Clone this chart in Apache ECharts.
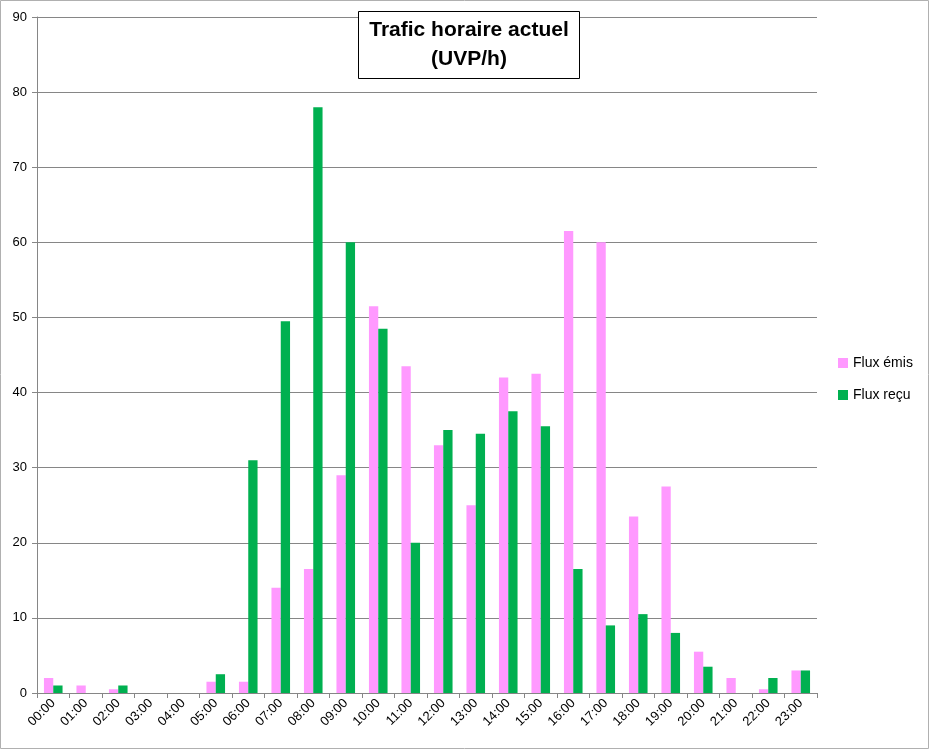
<!DOCTYPE html>
<html>
<head>
<meta charset="utf-8">
<script src="https://cdn.jsdelivr.net/npm/echarts@6/dist/echarts.min.js"></script>
<style>
  html, body { margin: 0; padding: 0; background: #fff; }
  #main { width: 930px; height: 750px; }
</style>
</head>
<body>
<div id="main"></div>
<script>
// heures de la journee
const hours = ['00:00', '01:00', '02:00', '03:00', '04:00', '05:00', '06:00', '07:00',
    '08:00', '09:00', '10:00', '11:00', '12:00', '13:00', '14:00', '15:00',
    '16:00', '17:00', '18:00', '19:00', '20:00', '21:00', '22:00', '23:00'];
const fluxEmis = [2, 1, 0.5, 0, 0, 1.5, 1.5, 14, 16.5, 29, 51.5, 43.5,
    33, 25, 42, 42.5, 61.5, 60, 23.5, 27.5, 5.5, 2, 0.5, 3];
const fluxRecu = [1, 0, 1, 0, 0, 2.5, 31, 49.5, 78, 60, 48.5, 20,
    35, 34.5, 37.5, 35.5, 16.5, 9, 10.5, 8, 3.5, 0, 2, 3];
const yTicks = [0, 10, 20, 30, 40, 50, 60, 70, 80, 90];

let myChart = echarts.init(document.getElementById('main'));
myChart.setOption({
    animation: false,
    textStyle: { fontFamily: 'Liberation Sans, Arial, sans-serif' },
    title: {
        text: 'Trafic horaire actuel\n(UVP/h)',
        left: 458,
        top: 11,
        textAlign: 'center',
        backgroundColor: '#fff',
        borderColor: '#000',
        borderWidth: 1,
        padding: [5, 11, 5, 11],
        textStyle: {
            fontSize: 21,
            fontWeight: 'bold',
            color: '#000',
            lineHeight: 29
        }
    },
    legend: {
        orient: 'vertical',
        left: 833,
        top: 351,
        icon: 'rect',
        itemWidth: 10,
        itemHeight: 10,
        itemGap: 18,
        textStyle: { fontSize: 14, color: '#000' },
        data: ['Flux émis', 'Flux reçu']
    },
    graphic: [{
        type: 'rect',
        shape: { x: 0.5, y: 0.5, width: 928, height: 748 },
        style: { fill: 'none', stroke: '#b0b0b0', lineWidth: 1 },
        silent: true
    }],
    grid: { left: 37, right: 113, top: 17, bottom: 57 },
    xAxis: {
        type: 'category',
        data: hours,
        axisLine: { lineStyle: { color: '#868686' } },
        axisTick: { show: true, length: 5, lineStyle: { color: '#868686' } },
        axisLabel: { rotate: 45, fontSize: 13, color: '#000', margin: 8 }
    },
    yAxis: {
        type: 'value',
        min: yTicks[0],
        max: yTicks[yTicks.length - 1],
        interval: 10,
        axisLine: { show: true, lineStyle: { color: '#868686' } },
        axisTick: { show: true, length: 5, lineStyle: { color: '#868686' } },
        axisLabel: { fontSize: 13, color: '#000', margin: 10 },
        splitLine: { lineStyle: { color: '#868686' } }
    },
    series: [
        {
            name: 'Flux émis',
            type: 'bar',
            data: fluxEmis,
            barWidth: 9.3,
            barGap: '0%',
            itemStyle: { color: '#FF99FF' }
        },
        {
            name: 'Flux reçu',
            type: 'bar',
            data: fluxRecu,
            barWidth: 9.3,
            barGap: '0%',
            itemStyle: { color: '#00B050' }
        }
    ]
});
</script>
</body>
</html>
